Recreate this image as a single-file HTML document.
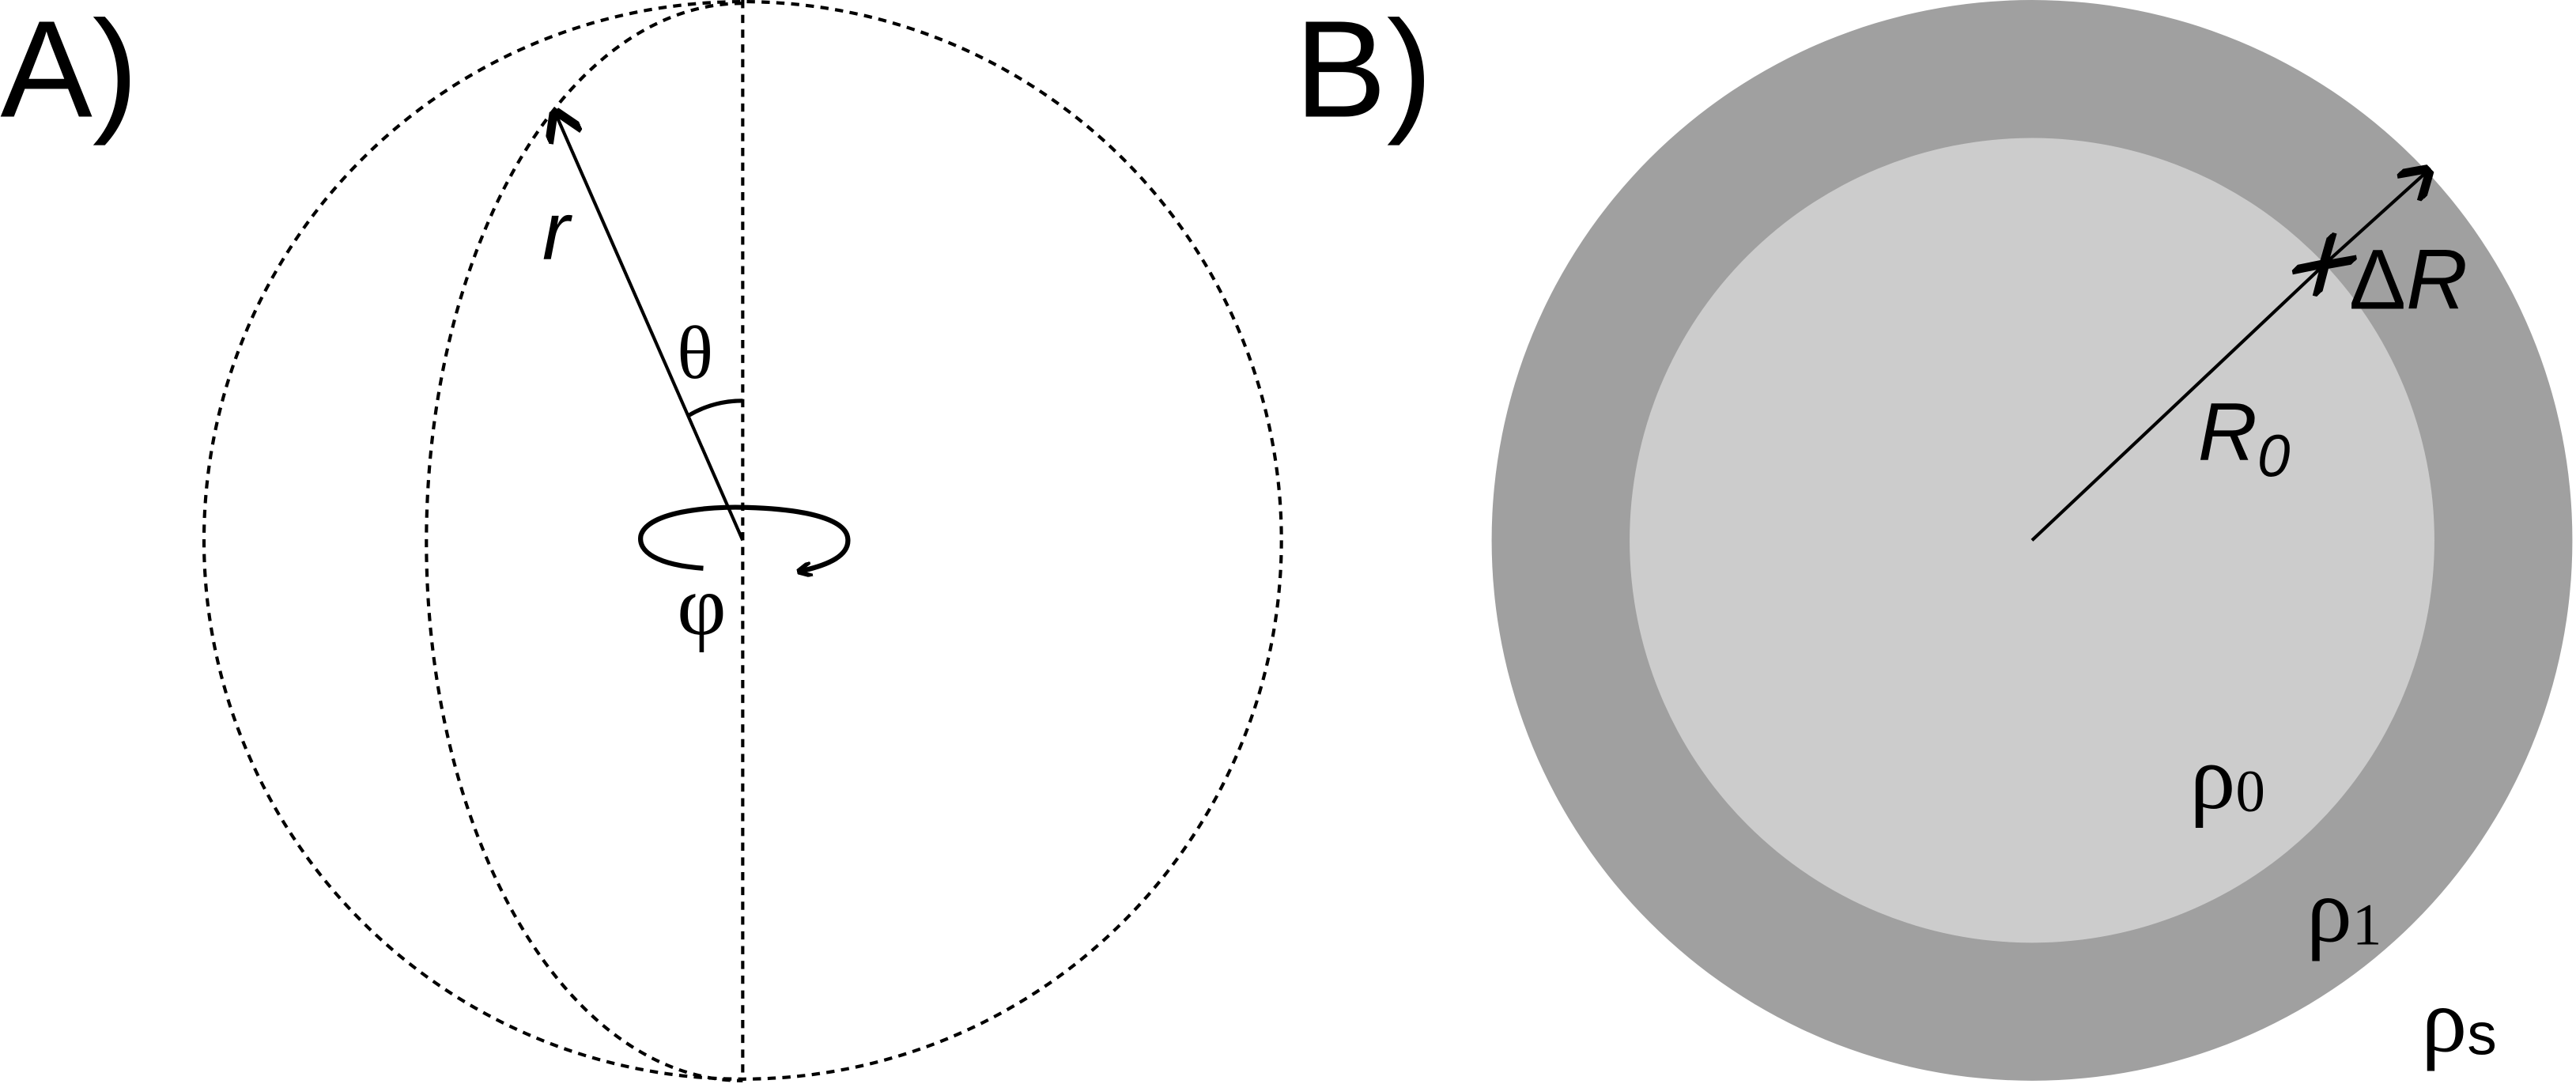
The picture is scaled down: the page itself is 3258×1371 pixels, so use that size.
<!DOCTYPE html>
<html><head><meta charset="utf-8"><style>
html,body{margin:0;padding:0;background:#fff;}
svg{display:block;}
text{font-family:"Liberation Sans",sans-serif;fill:#000;}
.serif{font-family:"Liberation Serif","DejaVu Serif",serif;}
</style></head><body>
<svg width="3258" height="1371" viewBox="0 0 1568 660">
<defs>
<marker id="ah" viewBox="0 0 10 10" refX="9" refY="5" markerWidth="9" markerHeight="9" orient="auto-start-reverse" markerUnits="userSpaceOnUse">
<path d="M0,0 L10,5 L0,10" fill="none" stroke="#000" stroke-width="3"/>
</marker>
<marker id="ah2" viewBox="0 0 10 10" refX="9" refY="5" markerWidth="22" markerHeight="22" orient="auto-start-reverse" markerUnits="userSpaceOnUse">
<path d="M2,0 L10,5 L2,10" fill="none" stroke="#000" stroke-width="2.4"/>
</marker>
</defs>
<g>
<text x="0" y="71" font-size="84">A)</text>
<circle cx="452" cy="329" r="328" fill="none" stroke="#000" stroke-width="2" stroke-dasharray="5,4"/>
<path d="M452,2 A192,327 0 0 0 452,658" fill="none" stroke="#000" stroke-width="2" stroke-dasharray="5,4"/>
<line x1="452" y1="0" x2="452" y2="658" stroke="#000" stroke-width="2" stroke-dasharray="5,4"/>
<line x1="452" y1="329" x2="338" y2="69" stroke="#000" stroke-width="2" marker-end="url(#ah2)"/>
<text x="330" y="158" font-size="50" font-style="italic">r</text>
<text x="412" y="230" font-size="46" class="serif">θ</text>
<path d="M419,253 Q434,244 452,244" fill="none" stroke="#000" stroke-width="2.5"/>
<path d="M428,346 C400,344 388,336 390,326 C394,312 430,308 455,309 C490,310 515,316 516,328 C517,338 505,344 486,348" fill="none" stroke="#000" stroke-width="3" marker-end="url(#ah)"/>
<text x="412" y="386" font-size="52" class="serif">φ</text>
</g>
<g>
<text x="788" y="71" font-size="84">B)</text>
<circle cx="1237" cy="329" r="329" fill="#a0a0a0"/>
<circle cx="1237" cy="329" r="245" fill="#cccccc"/>
<line x1="1237" y1="329" x2="1414" y2="162" stroke="#000" stroke-width="2" marker-end="url(#ah2)"/>
<line x1="1416" y1="160" x2="1478" y2="104" stroke="#000" stroke-width="2" marker-start="url(#ah2)" marker-end="url(#ah2)"/>
<text x="1430" y="188" font-size="52">Δ<tspan font-style="italic">R</tspan></text>
<text x="1338" y="280" font-size="50" font-style="italic">R<tspan font-size="36" dy="10">0</tspan></text>
<text x="1333" y="492" font-size="56" class="serif">ρ<tspan font-size="36" dy="2">0</tspan></text>
<text x="1404" y="573" font-size="56" class="serif">ρ<tspan font-size="36" dy="2">1</tspan></text>
<text x="1474" y="640" font-size="56" class="serif">ρ<tspan font-size="36" dy="2" font-family="Liberation Sans">s</tspan></text>
</g>
</svg>
</body></html>
